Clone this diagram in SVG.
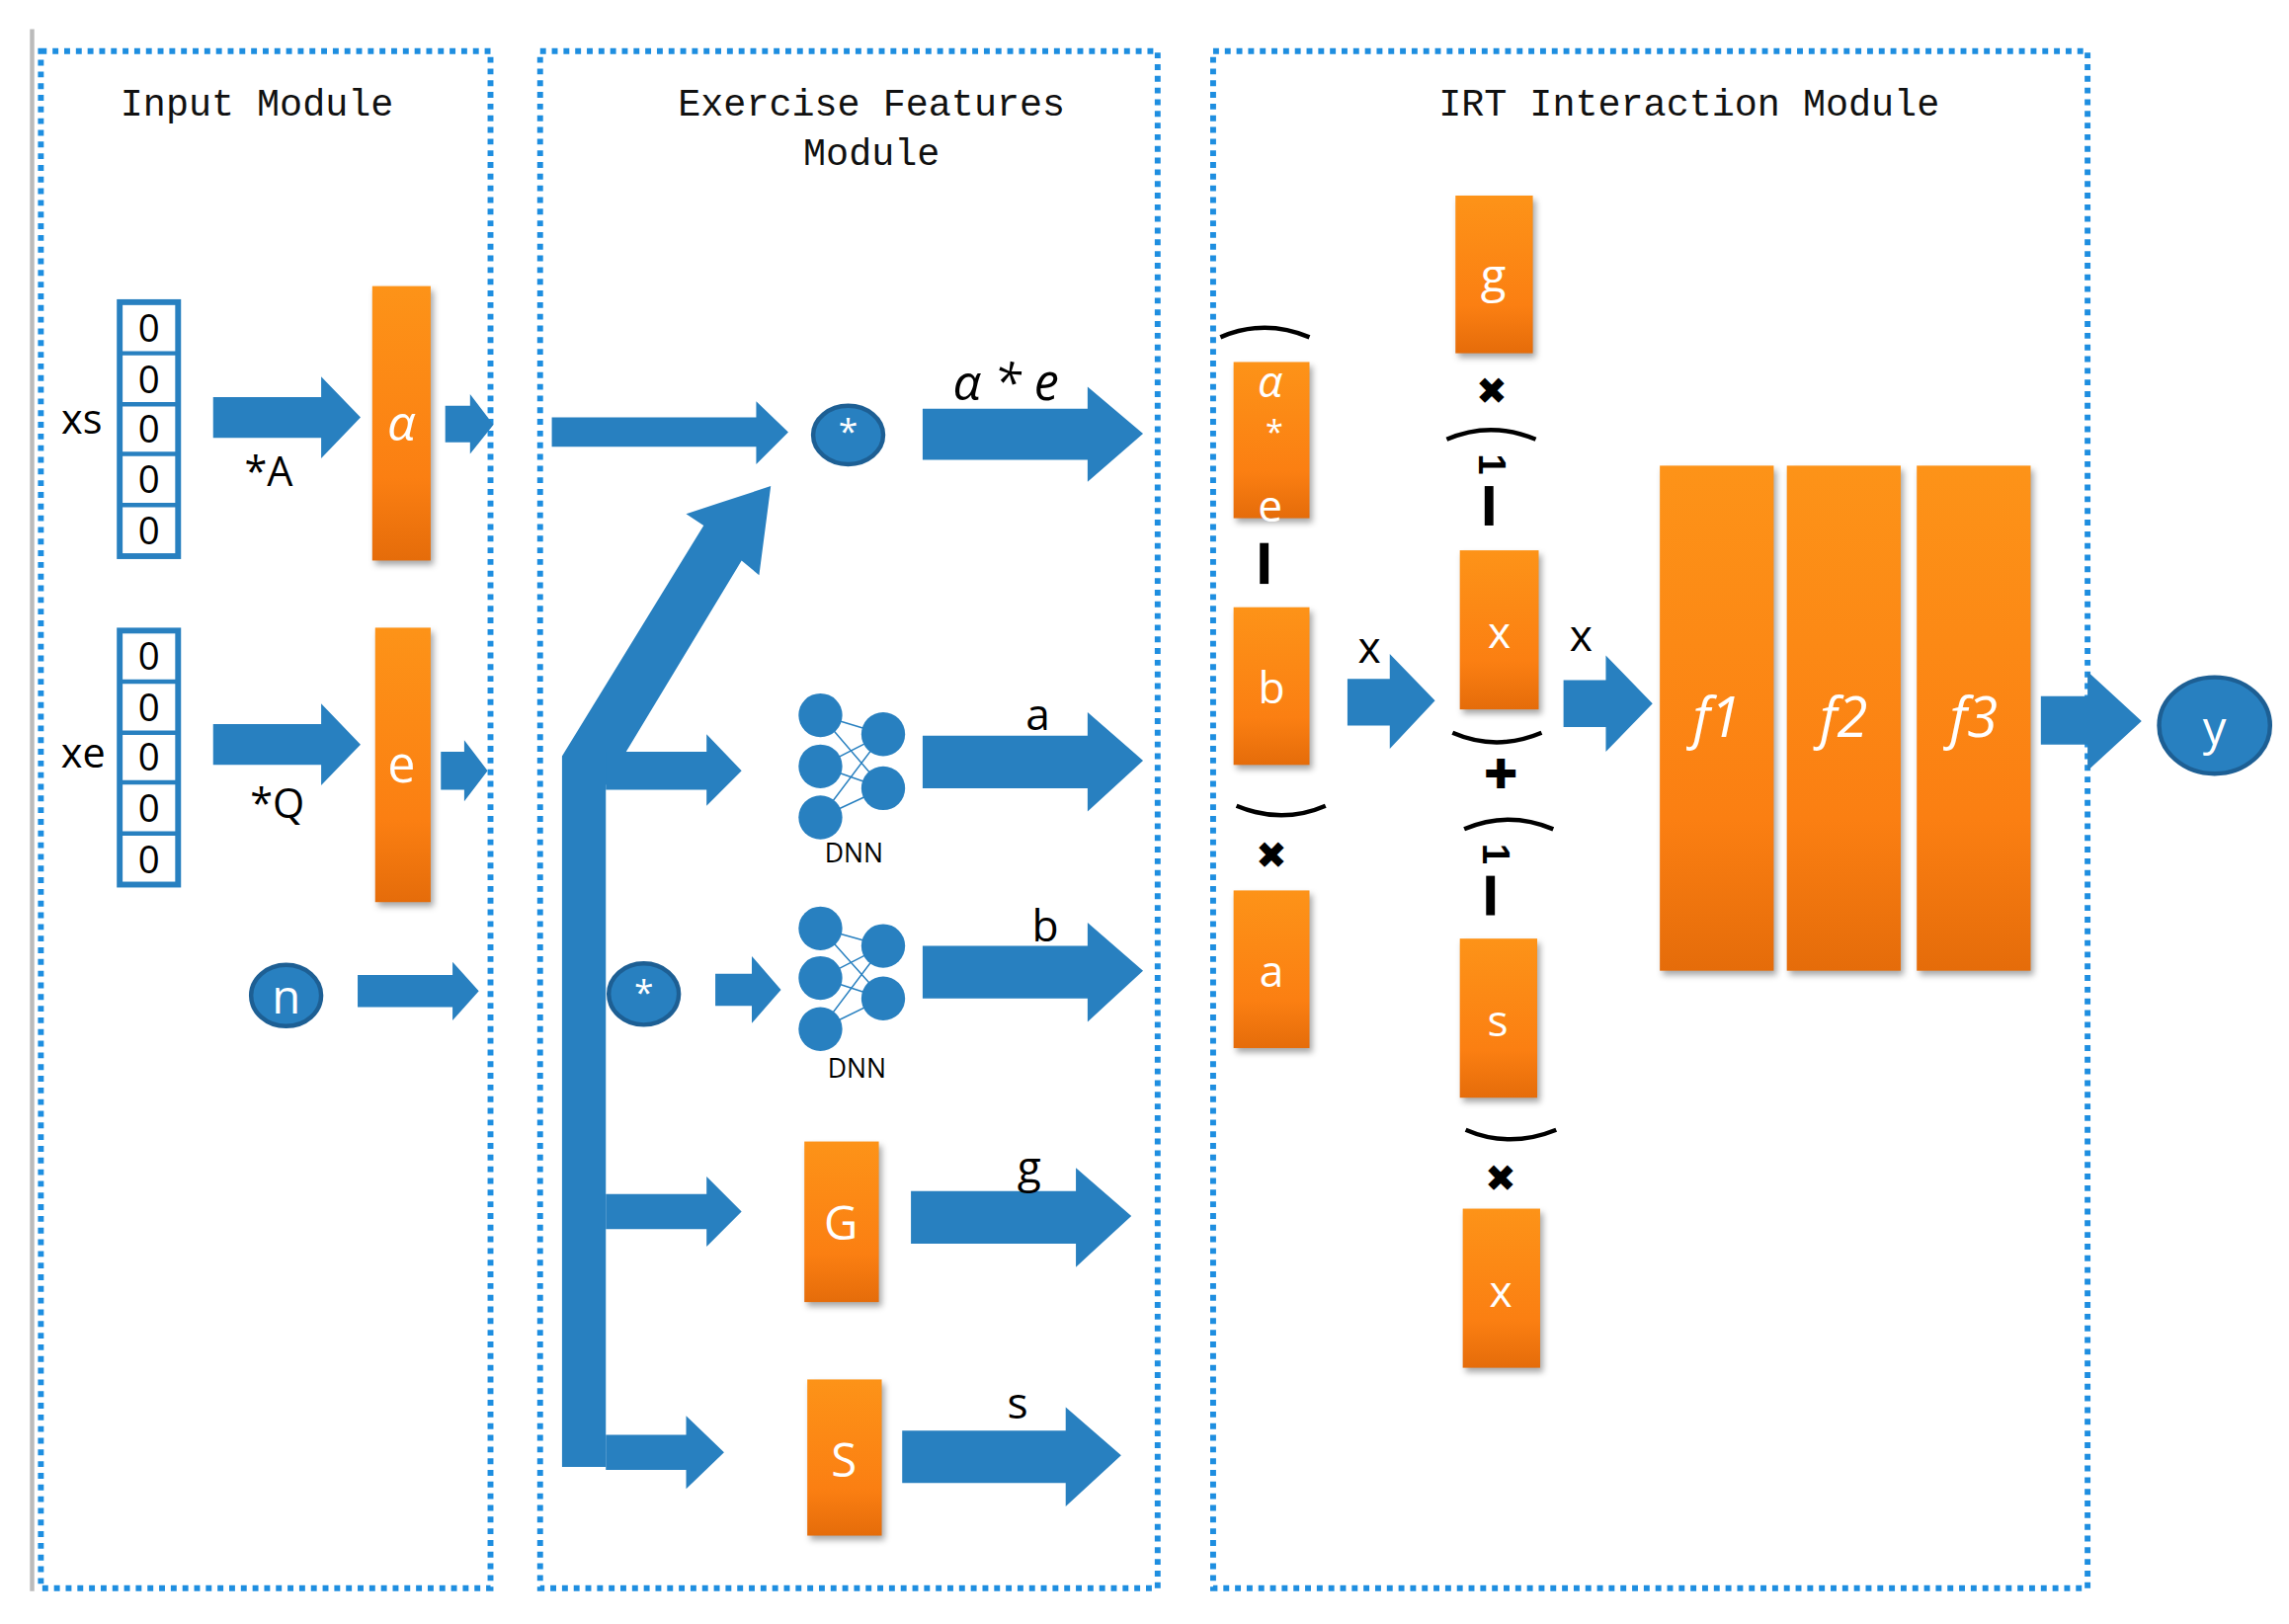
<svg xmlns="http://www.w3.org/2000/svg" width="2317" height="1644" viewBox="0 0 2317 1644">
<defs>
<linearGradient id="og" x1="0" y1="0" x2="0" y2="1"><stop offset="0" stop-color="#fd9318"/><stop offset="0.7" stop-color="#fb7f12"/><stop offset="1" stop-color="#e56c0a"/></linearGradient>
<style>
.box{fill:none;stroke:#1e8ee0;stroke-width:4;stroke-dasharray:4 4}
.t{font-family:"Liberation Mono",monospace;font-size:26px;fill:#111;text-anchor:middle}
.l{font-family:"Open Sans","Liberation Sans",sans-serif;fill:#000;text-anchor:middle}
.w{font-family:"Open Sans","Liberation Sans",sans-serif;fill:#fff;text-anchor:middle}
.bar{fill:url(#og);filter:drop-shadow(2px 3px 2px rgba(0,0,0,0.35))}
.ar{fill:#2880c0}
.cir{fill:#2880c0;stroke:#1d5f94;stroke-width:3}
.vec{fill:#fff;stroke:#2880c0;stroke-width:4}
.arc{fill:none;stroke:#000;stroke-width:3}
.dn{fill:#2880c0}
.dl{stroke:#2880c0;stroke-width:1}
.one{font-family:"Liberation Sans",sans-serif;font-size:26px;font-weight:bold;fill:#000;text-anchor:middle;dominant-baseline:central}
</style>
</defs>
<rect width="2317" height="1644" fill="#fff"/>
<g transform="scale(1.4777)">
<line x1="22" y1="20" x2="22" y2="1090" stroke="#bbb" stroke-width="3"/>
<g id="modules">
<rect class="box" x="28" y="35" width="308" height="1053"/>
<rect class="box" x="370" y="35" width="423" height="1053"/>
<rect class="box" x="831" y="35" width="599" height="1053"/>
<text class="t" x="176" y="79">Input Module</text>
<text class="t" x="597" y="79">Exercise Features</text>
<text class="t" x="597" y="113">Module</text>
<text class="t" x="1157" y="79">IRT Interaction Module</text>
</g>
<g id="connectors">
<path class="ar" d="M146,272 H220 V258 L247,286 L220,314 V300 H146 Z"/>
<path class="ar" d="M305,278 H322 V270 L338,291 L322,311 V303 H305 Z"/>
<path class="ar" d="M146,496 H220 V482 L247,510 L220,538 V524 H146 Z"/>
<path class="ar" d="M302,515 H318 V507 L334,528 L318,549 V541 H302 Z"/>
<path class="ar" d="M245,668 H310 V659 L328,679 L310,699 V690 H245 Z"/>
<path class="ar" d="M378,286 H518 V275 L540,296 L518,318 V306 H378 Z"/>
<path class="ar" d="M385,1005 V518 L482,360 L470,352 L528,333 L520,394 L508,384 L415,538 V1005 Z"/>
<path class="ar" d="M415,515 H484 V503 L508,528 L484,552 V541 H415 Z"/>
<path class="ar" d="M415,818 H484 V806 L508,830 L484,854 V842 H415 Z"/>
<path class="ar" d="M415,983 H470 V970 L496,995 L470,1020 V1007 H415 Z"/>
<path class="ar" d="M490,667 H515 V655 L535,678 L515,701 V689 H490 Z"/>
<path class="ar" d="M632,280 H745 V265 L783,297 L745,330 V315 H632 Z"/>
<path class="ar" d="M632,504 H745 V488 L783,521 L745,556 V540 H632 Z"/>
<path class="ar" d="M632,648 H745 V632 L783,665 L745,700 V684 H632 Z"/>
<path class="ar" d="M624,816 H737 V800 L775,833 L737,868 V852 H624 Z"/>
<path class="ar" d="M618,980 H730 V964 L768,997 L730,1032 V1016 H618 Z"/>
<path class="ar" d="M923,465 H952 V448 L983,480 L952,513 V497 H923 Z"/>
<path class="ar" d="M1071,466 H1100 V449 L1132,482 L1100,515 V498 H1071 Z"/>
<path class="ar" d="M1398,477 H1430 V460 L1467,494 L1430,528 V510 H1398 Z"/>
</g>
<g id="xs">
<text class="l" x="56" y="297" font-size="28">xs</text>
<rect class="vec" x="82" y="207" width="40" height="174"/>
<g stroke="#2880c0" stroke-width="3"><line x1="82" y1="242" x2="122" y2="242"/><line x1="82" y1="277" x2="122" y2="277"/><line x1="82" y1="311" x2="122" y2="311"/><line x1="82" y1="346" x2="122" y2="346"/></g>
<g class="l" font-size="26"><text x="102" y="234">0</text><text x="102" y="269">0</text><text x="102" y="303">0</text><text x="102" y="338">0</text><text x="102" y="373">0</text></g>
<text class="l" x="184" y="333" font-size="28">*A</text>
</g>
<g id="xe">
<text class="l" x="57" y="526" font-size="28">xe</text>
<rect class="vec" x="82" y="432" width="40" height="174"/>
<g stroke="#2880c0" stroke-width="3"><line x1="82" y1="467" x2="122" y2="467"/><line x1="82" y1="502" x2="122" y2="502"/><line x1="82" y1="536" x2="122" y2="536"/><line x1="82" y1="571" x2="122" y2="571"/></g>
<g class="l" font-size="26"><text x="102" y="459">0</text><text x="102" y="494">0</text><text x="102" y="528">0</text><text x="102" y="563">0</text><text x="102" y="598">0</text></g>
<text class="l" x="190" y="560" font-size="28">*Q</text>
</g>
<g id="alpha"><rect class="bar" x="255" y="196" width="40" height="188"/><text class="w" x="275" y="302" font-size="34" font-style="italic">α</text></g>
<g id="e"><rect class="bar" x="257" y="430" width="38" height="188"/><text class="w" x="275" y="536" font-size="34">e</text></g>
<g id="n"><ellipse class="cir" cx="196" cy="682" rx="24" ry="21"/><text class="w" x="196" y="694" font-size="32">n</text></g>
<g id="mul1"><ellipse class="cir" cx="581" cy="298" rx="24" ry="20"/><text class="w" x="581" y="304" font-size="24">*</text></g>
<g id="mul2"><ellipse class="cir" cx="441" cy="681" rx="24" ry="21"/><text class="w" x="441" y="688" font-size="24">*</text></g>
<g id="dnn1">
<g class="dl"><path d="M562,490 L605,503 M562,490 L605,540 M562,525 L605,503 M562,525 L605,540 M562,560 L605,503 M562,560 L605,540"/></g>
<circle class="dn" cx="562" cy="490" r="15"/><circle class="dn" cx="562" cy="525" r="15"/><circle class="dn" cx="562" cy="560" r="15"/><circle class="dn" cx="605" cy="503" r="15"/><circle class="dn" cx="605" cy="540" r="15"/>
<text class="l" x="585" y="591" font-size="18">DNN</text>
</g>
<g id="dnn2">
<g class="dl"><path d="M562,636 L605,648 M562,636 L605,684 M562,670 L605,648 M562,670 L605,684 M562,705 L605,648 M562,705 L605,684"/></g>
<circle class="dn" cx="562" cy="636" r="15"/><circle class="dn" cx="562" cy="670" r="15"/><circle class="dn" cx="562" cy="705" r="15"/><circle class="dn" cx="605" cy="648" r="15"/><circle class="dn" cx="605" cy="684" r="15"/>
<text class="l" x="587" y="738" font-size="18">DNN</text>
</g>
<g id="G"><rect class="bar" x="551" y="782" width="51" height="110"/><text class="w" x="576" y="849" font-size="32">G</text></g>
<g id="S"><rect class="bar" x="553" y="945" width="51" height="107"/><text class="w" x="578" y="1012" font-size="32">S</text></g>
<g id="labels">
<text class="l" x="689" y="274" font-size="34" font-style="italic">α * e</text>
<text class="l" x="711" y="500" font-size="30">a</text>
<text class="l" x="716" y="645" font-size="30">b</text>
<text class="l" x="705" y="810" font-size="30">g</text>
<text class="l" x="697" y="972" font-size="30">s</text>
</g>
<g id="irt-left">
<path class="arc" d="M836,231 Q866,218 897,231"/>
<rect class="bar" x="845" y="248" width="52" height="107"/>
<text class="w" x="870" y="272" font-size="30" font-style="italic">α</text>
<text class="w" x="873" y="304" font-size="22">*</text>
<text class="w" x="870" y="357" font-size="30">e</text>
<rect x="863" y="372" width="6" height="28" fill="#000"/>
<rect class="bar" x="845" y="416" width="52" height="108"/><text class="w" x="871" y="482" font-size="30">b</text>
<path class="arc" d="M847,552 Q878,565 908,552"/>
<text class="l" x="871" y="595" font-size="26">✖</text>
<rect class="bar" x="845" y="610" width="52" height="108"/><text class="w" x="871" y="676" font-size="30">a</text>
<text class="l" x="938" y="454" font-size="30">x</text>
</g>
<g id="irt-mid">
<rect class="bar" x="997" y="134" width="53" height="108"/><text class="w" x="1023" y="200" font-size="32">g</text>
<text class="l" x="1022" y="277" font-size="26">✖</text>
<path class="arc" d="M991,301 Q1021,288 1052,301"/>
<text class="one" x="1022" y="318" transform="rotate(90 1022 318)">1</text>
<rect x="1017" y="333" width="6" height="27" fill="#000"/>
<rect class="bar" x="1000" y="377" width="54" height="109"/><text class="w" x="1027" y="444" font-size="30">x</text>
<path class="arc" d="M995,502 Q1025,515 1056,502"/>
<text class="l" x="1028" y="540" font-size="28">✚</text>
<path class="arc" d="M1003,568 Q1033,555 1064,568"/>
<text class="one" x="1025" y="585" transform="rotate(90 1025 585)">1</text>
<rect x="1018" y="600" width="6" height="27" fill="#000"/>
<rect class="bar" x="1000" y="643" width="53" height="109"/><text class="w" x="1026" y="710" font-size="30">s</text>
<path class="arc" d="M1004,774 Q1034,787 1066,774"/>
<text class="l" x="1028" y="816" font-size="26">✖</text>
<rect class="bar" x="1002" y="828" width="53" height="109"/><text class="w" x="1028" y="895" font-size="30">x</text>
<text class="l" x="1083" y="446" font-size="30">x</text>
</g>
<g id="f1"><rect class="bar" x="1137" y="319" width="78" height="346"/><text class="w" x="1176" y="505" font-size="38" font-style="italic">f1</text></g>
<g id="f2"><rect class="bar" x="1224" y="319" width="78" height="346"/><text class="w" x="1263" y="505" font-size="38" font-style="italic">f2</text></g>
<g id="f3"><rect class="bar" x="1313" y="319" width="78" height="346"/><text class="w" x="1352" y="505" font-size="38" font-style="italic">f3</text></g>
<g id="y"><ellipse class="cir" cx="1517" cy="497" rx="38" ry="33"/><text class="w" x="1517" y="510" font-size="32">y</text></g>
</g>
</svg>
